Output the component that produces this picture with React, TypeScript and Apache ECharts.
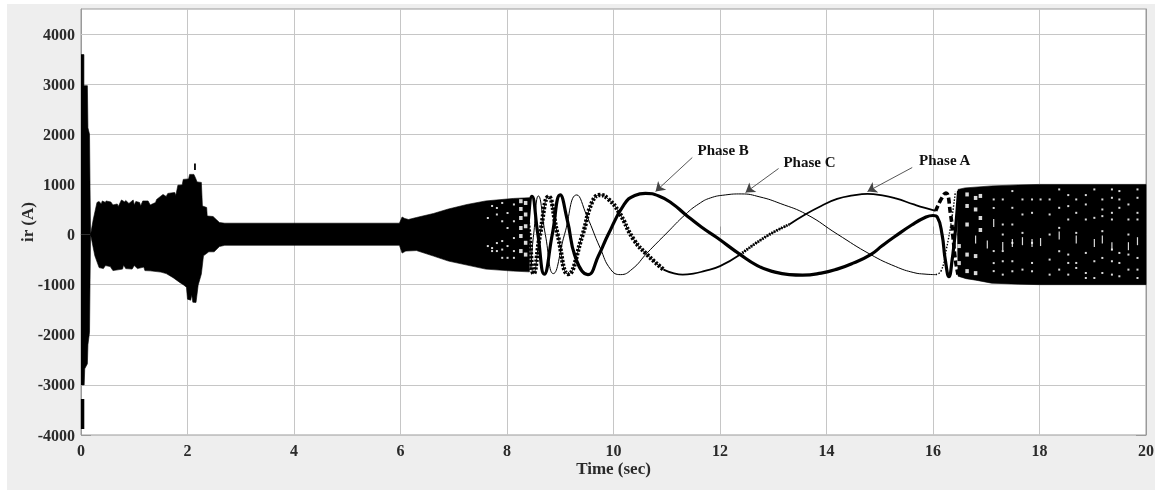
import React, { useEffect, useRef } from "react";
import * as echarts from "echarts";

type P = [number, number];

const xTicks = { min: 0, max: 20, interval: 2 };
const yTicks = { min: -4000, max: 4500, interval: 500 };

// Envelope of the solid black waveform
const massUpper: P[] = [
  [0, 3590], [0.055, 3590], [0.055, 2970], [0.12, 2970], [0.13, 2130], [0.16, 2000], [0.17, 900], [0.18, 0],
  [0.23, 300], [0.3, 640], [0.34, 660], [0.38, 610], [0.4, 670], [0.46, 640], [0.47, 670], [0.56, 650], [0.6, 590], [0.68, 610], [0.7, 560], [0.76, 690],
  [0.82, 650], [0.84, 680], [0.9, 620], [0.98, 690], [1.0, 590], [1.03, 660], [1.1, 640], [1.12, 570], [1.16, 670], [1.26, 670], [1.3, 590], [1.4, 640], [1.42, 700], [1.54, 800],
  [1.6, 760], [1.63, 820], [1.76, 840], [1.78, 780], [1.82, 985], [1.9, 990], [1.92, 1100], [2.02, 1110], [2.04, 1200], [2.12, 1200], [2.15, 1130],
  [2.18, 1050], [2.26, 1040], [2.28, 570], [2.36, 540], [2.37, 370], [2.48, 360], [2.54, 300], [2.6, 240], [2.7, 226],
  [5.98, 226], [6.03, 350], [6.08, 320], [6.15, 300], [6.3, 340], [6.62, 420], [6.9, 510], [7.25, 600], [7.6, 670],
  [8.12, 720], [8.42, 735], [8.42, 0],
];
const massLower: P[] = [
  [0, -3000], [0.06, -3000], [0.07, -2680], [0.12, -2580], [0.13, -2200], [0.16, -1950], [0.17, -900], [0.18, 0],
  [0.26, -425], [0.34, -660], [0.42, -680], [0.46, -620], [0.55, -640], [0.6, -720], [0.78, -690], [0.8, -610], [0.84, -680],
  [0.96, -690], [1.0, -620], [1.06, -680], [1.18, -650], [1.2, -720], [1.3, -725], [1.5, -750], [1.6, -780], [1.73, -860], [1.86, -960], [1.92, -1000],
  [1.98, -1050], [2.0, -1290], [2.06, -1310], [2.08, -1200], [2.1, -1350], [2.16, -1355], [2.2, -1010], [2.26, -790],
  [2.3, -425], [2.4, -345], [2.5, -345], [2.6, -240], [2.7, -215], [5.98, -215], [6.03, -370], [6.1, -330], [6.3, -320],
  [6.62, -430], [6.9, -530], [7.25, -610], [7.6, -690], [8.12, -730], [8.42, -745], [8.42, 0],
];
const massUpperRight: P[] = [
  [16.46, 0], [16.47, 900], [16.6, 930], [17.1, 970], [17.6, 990], [18, 1000], [20, 1000], [20, 0],
];
const massLowerRight: P[] = [
  [16.46, 0], [16.47, -830], [16.62, -880], [16.8, -910], [17.1, -970], [17.6, -990], [18, -1000], [20, -1000], [20, 0],
];
const massCoreLeft: P[] = [[0.18, 0], [8.42, 0]];
const massCoreRight: P[] = [[16.46, 0], [20, 0]];
const startSpike: P[] = [[0.03, -3280], [0.03, -3880]];
const burstSpike: P[] = [[2.14, 1290], [2.14, 1416]];

// The three rotor phase currents while the slip is low
const phaseB: P[] = [
  [8.27, -650], [8.37, 0], [8.47, 760], [8.58, 0], [8.7, -790], [8.85, 0], [9.0, 790], [9.13, 300], [9.3, -500], [9.52, -800],
  [9.72, -420], [9.9, 0], [10.2, 600], [10.4, 780], [10.6, 820], [10.85, 770], [11.1, 620], [11.35, 400], [11.65, 150], [11.94, -60],
  [12.38, -400], [12.7, -620], [13.0, -740], [13.3, -800], [13.55, -810], [13.9, -770], [14.2, -690], [14.5, -570], [14.83, -400],
  [15.05, -220], [15.27, -50], [15.6, 190], [15.85, 340], [16.0, 380], [16.08, 350], [16.17, 0], [16.23, -500], [16.3, -840],
  [16.36, -500], [16.42, 70], [16.48, 870],
];
const phaseASolidMid: P[] = [
  [10.94, -700], [11.12, -770], [11.3, -800], [11.5, -780], [11.7, -730], [12.0, -630], [12.38, -400],
];
const phaseASolidEnd: P[] = [
  [13.3, 200], [13.6, 400], [13.9, 570], [14.2, 710], [14.5, 780], [14.77, 810], [15.05, 780], [15.3, 720], [15.64, 600], [15.85, 530], [16.05, 470],
];
const phaseAStriped: P[] = [
  [8.33, 700], [8.42, 0], [8.5, -780], [8.62, 0], [8.78, 760], [8.95, 0], [9.15, -790], [9.42, 0], [9.6, 650], [9.75, 790],
  [9.9, 710], [10.1, 450], [10.38, -100], [10.63, -400], [10.94, -700],
];
const phaseAStripedLate: P[] = [[12.38, -400], [12.88, -30], [13.3, 200]];
const phaseADashes: P[] = [[16.05, 470], [16.15, 700], [16.24, 830], [16.33, 400], [16.38, -100], [16.42, -500], [16.47, -800]];
const phaseC: P[] = [
  [8.28, 650], [8.35, 0], [8.42, -700], [8.5, 0], [8.59, 770], [8.72, 0], [8.87, -780], [9.08, 0], [9.31, 790], [9.5, 370],
  [9.75, -270], [9.95, -700], [10.13, -800], [10.35, -690], [10.63, -370], [11.0, 30], [11.35, 400], [11.6, 610], [11.82, 730], [12.1, 790],
  [12.4, 810], [12.75, 750], [13.13, 620], [13.63, 400], [14.2, 10], [14.83, -400], [15.3, -640], [15.64, -760], [15.85, -790], [16.05, -800],
];
const phaseCDots: P[] = [[16.05, -800], [16.15, -730], [16.25, -300], [16.35, 300], [16.42, 850]];

// White gaps inside the solid waveform, column by column: [time, currents]
const tinyGaps: [number, number[]][] = [
  [7.64, [330, -230]], [7.72, [570, -270, -330]], [7.81, [530, 400, -170, -330]], [7.91, [630, 265, -130, -300, -465]],
  [8.01, [430, 130, -230, -465]], [8.13, [600, 265, -70, -330, -465]],
  [17.14, [700, 530, -330, -570, -730]], [17.31, [700, 200, 0, -330, -533, -800]], [17.49, [867, 533, 200, -167, -533, -733]],
  [17.68, [700, 400, 33, -700]], [17.86, [700, 433, -167, -567, -733]],
  [18.02, [700]], [18.19, [700, 400, 0, -500, -800]], [18.37, [900, 533, 133, -333, -700]], [18.54, [787, 567, 300, -400, -567, -800]],
  [18.69, [700, 433, 33, -567, -667]], [18.87, [787, 600, 300, -367, -767, -867]], [19.03, [900, 333, -533, -867]],
  [19.18, [700, 500, 367, 67, -467, -767]], [19.36, [900, 733, 433, 300, -300, -533, -800]], [19.5, [867, 700, 533, -367, -567, -833]],
  [19.67, [600, 300, 0, -400, -700]], [19.84, [900, 733, 433, 300, -467, -700, -867]],
];
const tallGaps: [number, number[]][] = [
  [16.8, [-100]], [17.02, [-200]], [17.14, [230]], [17.31, [-230]], [17.49, [-167]], [17.68, [-133]], [17.86, [-167]],
  [18.02, [-150]], [18.37, [-20]], [18.69, [-100]], [19.03, [-167]], [19.18, [-100]], [19.36, [-233]], [19.67, [-233]], [19.84, [-133]],
];
const bigGaps: [number, number[]][] = [
  [8.26, [665, 510, 330, 130, -30, -330]], [8.35, [630, 400, 165, -165, -400]],
  [16.49, [-230, -570]], [16.64, [800, 570, 200, -400, -730]], [16.8, [730, 500, -430, -770]], [16.89, [770, 330, 90]],
];

const annotationNames = ["Phase B", "Phase C", "Phase A"];
const annotationPoints: P[] = [[12.06, 1677], [13.68, 1457], [16.22, 1497]];
const arrowTails: P[] = [[11.48, 1537], [13.1, 1317], [15.61, 1337]];
const arrowHeads: P[] = [[10.79, 858], [12.48, 838], [14.77, 858]];

const ySplit = [-4000, -3000, -2000, -1000, 0, 1000, 2000, 3000, 4000];

const SERIF = "'Liberation Serif', 'Times New Roman', serif";
const INK = "#000";
const GRID = "#c6c6c6";
const FRAME = "#9a9a9a";
const TEXT = "#2a2a2a";

const expand = (cols: [number, number[]][]): P[] => cols.flatMap(([t, vs]) => vs.map((v): P => [t, v]));

const area = (data: P[]) => ({
  type: "line", data, showSymbol: false, silent: true, z: 3,
  lineStyle: { color: INK, width: 0.6 }, areaStyle: { color: INK, opacity: 1 },
});
const curve = (data: P[], width: number, dash?: number[], z = 5) => ({
  type: "line", data, showSymbol: false, silent: true, smooth: 0.5, z,
  lineStyle: { color: INK, width, type: dash ?? "solid", cap: "butt" },
});
const straight = (data: P[], width: number) => ({
  type: "line", data, showSymbol: false, silent: true, z: 4, lineStyle: { color: INK, width, cap: "butt" },
});
const gaps = (cols: [number, number[]][], size: number[]) => ({
  type: "scatter", data: expand(cols), symbol: "rect", symbolSize: size, silent: true, z: 6,
  itemStyle: { color: "#fff", opacity: 0.85 },
});

export default function App() {
  const ref = useRef<HTMLDivElement>(null);
  useEffect(() => {
    const chart = echarts.init(ref.current!, undefined, { renderer: "svg" });
    const label = {
      fontFamily: SERIF, fontWeight: "bold" as const, fontSize: 16, color: TEXT,
    };
    const yBase = {
      type: "value" as const, ...yTicks,
      axisLine: { show: true, lineStyle: { color: FRAME, width: 1 } },
      axisTick: { show: true, inside: true, length: 10, lineStyle: { color: FRAME }, customValues: ySplit },
    };
    chart.setOption({
      animation: false,
      backgroundColor: "#fff",
      graphic: [{
        type: "rect", z: -10, silent: true,
        shape: { x: 7, y: 4, width: 1148, height: 486 },
        style: { fill: "#eeeeee" },
      }],
      grid: { left: 81, right: 12, top: 9, height: 426, show: true, backgroundColor: "#fff", borderColor: FRAME, borderWidth: 1, containLabel: false },
      xAxis: [{
        type: "value", ...xTicks,
        name: "Time (sec)", nameLocation: "middle", nameGap: 25, nameMoveOverlap: false,
        nameTextStyle: { ...label, fontSize: 17 },
        axisLine: { show: true, lineStyle: { color: FRAME } },
        axisTick: { show: true, inside: true, length: 8, lineStyle: { color: FRAME } },
        axisLabel: { ...label, margin: 7 },
        splitLine: { show: true, lineStyle: { color: GRID, width: 1 } },
      }],
      yAxis: [{
        ...yBase,
        name: "ir (A)", nameLocation: "middle", nameGap: 45, nameMoveOverlap: false,
        nameTextStyle: { ...label, fontSize: 17 },
        axisLabel: { ...label, margin: 6, customValues: ySplit, formatter: (v: number) => String(v) },
        splitLine: { show: false },
      }, {
        ...yBase, position: "right",
        axisLabel: { show: false },
        splitLine: { show: false },
      }],
      series: [
        {
          type: "line", data: [], silent: true, z: 1,
          markLine: {
            silent: true, symbol: "none", label: { show: false }, z: 1,
            lineStyle: { color: GRID, width: 1, type: "solid" },
            data: ySplit.slice(1).map((v) => ({ yAxis: v })),
          },
        },
        area(massUpper), area(massLower), area(massUpperRight), area(massLowerRight),
        straight(massCoreLeft, 2), straight(massCoreRight, 2),
        straight(startSpike, 3.4), straight(burstSpike, 1.8),
        curve(phaseASolidMid, 1.8), curve(phaseASolidEnd, 1.8),
        curve(phaseAStriped, 1), curve(phaseAStriped, 4.4, [2.2, 1.6]),
        curve(phaseAStripedLate, 1), curve(phaseAStripedLate, 3, [1.5, 1.2]),
        curve(phaseADashes, 3.6, [6, 3]),
        curve(phaseC, 1), curve(phaseCDots, 1.4, [1.5, 1.5]),
        curve(phaseB, 3.2),
        gaps(tinyGaps, [2, 2]), gaps(tallGaps, [1.2, 8]), gaps(bigGaps, [3.5, 4]),
        {
          type: "scatter", data: annotationPoints, symbolSize: 0, silent: true, z: 8,
          itemStyle: { opacity: 1 },
          label: {
            show: true, position: "inside", ...label, fontSize: 15, color: "#111", opacity: 1,
            formatter: (p: any) => annotationNames[p.dataIndex],
          },
          markLine: {
            silent: true, symbol: ["none", "arrow"], symbolSize: 9, label: { show: false },
            lineStyle: { color: "#444", width: 0.9, type: "solid", opacity: 1 },
            data: arrowTails.map((tail, i) => [{ coord: tail }, { coord: arrowHeads[i] }]),
          },
        },
      ],
    });
    return () => chart.dispose();
  }, []);
  return (
    <div
      ref={ref}
      style={{ position: "fixed", left: 0, top: 0, width: 1158, height: 490, filter: "blur(0.55px)" }}
    />
  );
}
